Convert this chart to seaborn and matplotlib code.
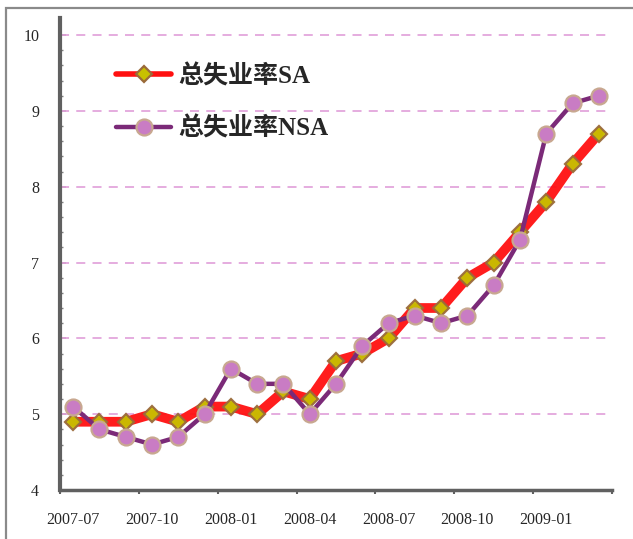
import numpy as np
import pandas as pd
import matplotlib
matplotlib.use("Agg")
import matplotlib.pyplot as plt
from matplotlib.patches import Rectangle
from matplotlib.lines import Line2D
import seaborn as sns

# Monthly unemployment rate, 2007-07 .. 2009-03
months = ["2007-07", "2007-08", "2007-09", "2007-10", "2007-11", "2007-12",
          "2008-01", "2008-02", "2008-03", "2008-04", "2008-05", "2008-06",
          "2008-07", "2008-08", "2008-09", "2008-10", "2008-11", "2008-12",
          "2009-01", "2009-02", "2009-03"]
rate_sa = [4.9, 4.9, 4.9, 5.0, 4.9, 5.1, 5.1, 5.0, 5.3, 5.2, 5.7, 5.8,
           6.0, 6.4, 6.4, 6.8, 7.0, 7.4, 7.8, 8.3, 8.7]
rate_nsa = [5.1, 4.8, 4.7, 4.6, 4.7, 5.0, 5.6, 5.4, 5.4, 5.0, 5.4, 5.9,
            6.2, 6.3, 6.2, 6.3, 6.7, 7.3, 8.7, 9.1, 9.2]
label_sa = "总失业率SA"
label_nsa = "总失业率NSA"
tick_labels = ["2007-07", "2007-10", "2008-01", "2008-04", "2008-07", "2008-10", "2009-01"]
y_ticks = [4, 5, 6, 7, 8, 9, 10]

sns.set_theme(style="white")
plt.rcParams["font.family"] = ["Liberation Serif", "Noto Sans CJK SC", "DejaVu Sans"]

df = pd.DataFrame({"month": months, "pos": np.arange(len(months)),
                   "SA": rate_sa, "NSA": rate_nsa})

W, H = 633, 539
fig = plt.figure(figsize=(W / 100, H / 100), dpi=100)
ax = fig.add_axes([60 / W, 49 / H, (612 - 60) / W, (490 - 18) / H])

# outer chart frame
fig.patches.append(Rectangle((6 / W, -0.05), 1.1, 1 - 8 / H + 0.05,
                             transform=fig.transFigure, fill=False,
                             edgecolor="#8a8a8a", linewidth=1.6, zorder=0))

sa_color = "#ff1010"
nsa_color = "#7b2a78"
sa_marker = dict(marker="D", markersize=8.5, markerfacecolor="#c8c000",
                 markeredgecolor="#9a6a3a", markeredgewidth=1.6)
nsa_marker = dict(marker="o", markersize=11.5, markerfacecolor="#c97cc4",
                  markeredgecolor="#c8a890", markeredgewidth=1.6)

sns.lineplot(data=df, x="pos", y="SA", ax=ax, color=sa_color, linewidth=7,
             alpha=0.95, zorder=3, **sa_marker)
sns.lineplot(data=df, x="pos", y="NSA", ax=ax, color=nsa_color, linewidth=3.2,
             zorder=4, **nsa_marker)

ax.set_xlim(-0.5, len(months) - 0.5)
ax.set_ylim(4, 10 + 17 / 75.8)
ax.set_xlabel("")
ax.set_ylabel("")

# labels on every third month, tick marks between groups
label_pos = [months.index(m) for m in tick_labels]
ax.set_xticks(label_pos)
ax.set_xticklabels(tick_labels, fontsize=11.5)
ax.set_xticks(np.arange(-0.5, len(months), 3), minor=True)
ax.tick_params(axis="x", which="major", length=0, pad=16)
ax.tick_params(axis="x", which="minor", direction="out", length=3,
               width=1.5, color="#606060", bottom=True)

ax.set_yticks(y_ticks)
ax.set_yticklabels([str(v) for v in y_ticks], fontsize=11.5)
ax.set_yticks(np.arange(4, 10.01, 0.2), minor=True)
ax.tick_params(axis="y", which="major", direction="in", length=4, width=1.3,
               color="#606060", left=True, pad=15)
ax.tick_params(axis="y", which="minor", direction="in", length=2.5, width=1,
               color="#808080", left=True)

for v in y_ticks[1:]:
    ax.axhline(v, color="#e3a6dc", linestyle=(0, (5, 4)), linewidth=1.3, zorder=1)

for side in ["top", "right"]:
    ax.spines[side].set_visible(False)
ax.spines["left"].set_color("#606060")
ax.spines["left"].set_linewidth(3)
ax.spines["bottom"].set_color("#606060")
ax.spines["bottom"].set_linewidth(2.5)

handles = [
    Line2D([], [], color=sa_color, linewidth=4, **sa_marker),
    Line2D([], [], color=nsa_color, linewidth=3.2, **nsa_marker),
]
ax.legend(handles, [label_sa, label_nsa], loc="upper left",
          bbox_to_anchor=(116 / W, 1 - 64 / H), bbox_transform=fig.transFigure,
          frameon=False, handlelength=2.2, handletextpad=0.28,
          labelspacing=1.12, borderpad=0, borderaxespad=0,
          prop={"size": 18, "weight": "bold",
                "family": ["Liberation Serif", "Noto Sans CJK SC"]})

fig.savefig("out.png", dpi=100)
